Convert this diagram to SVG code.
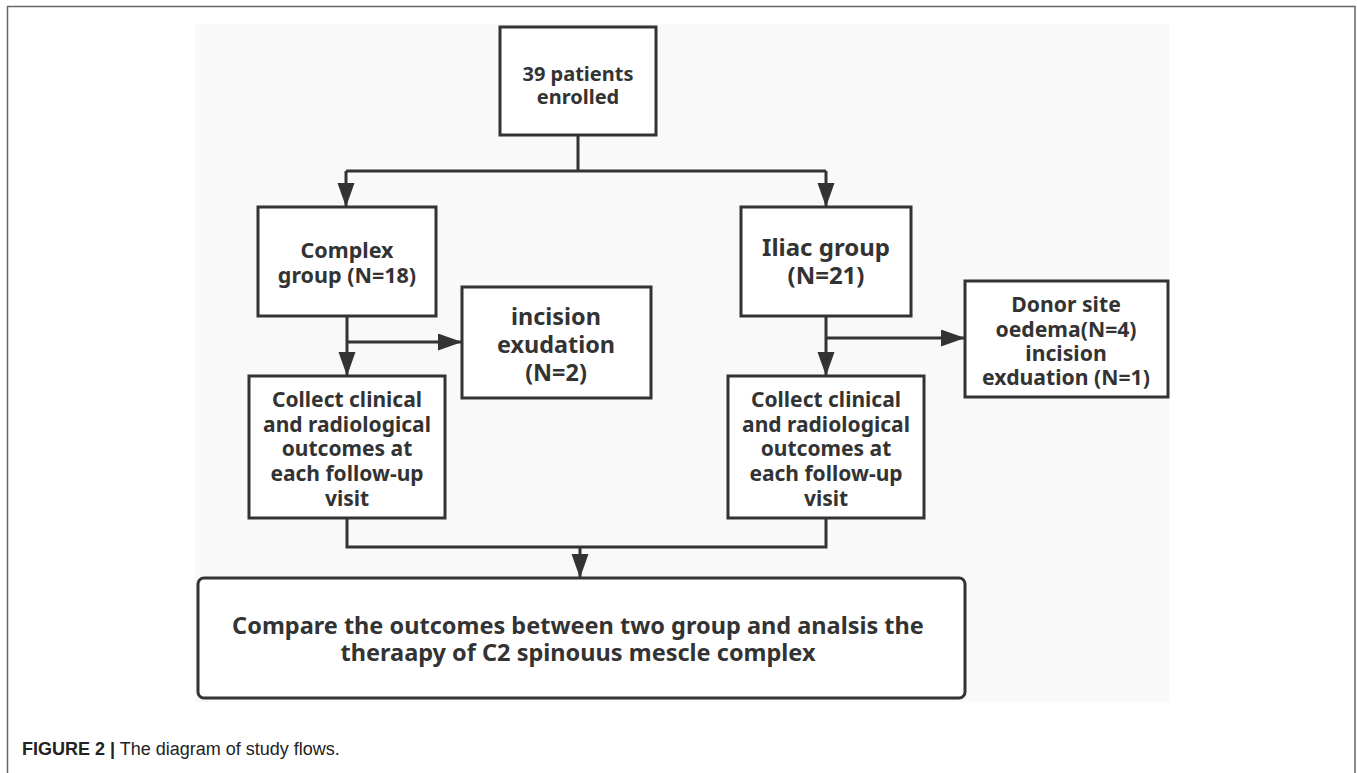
<svg xmlns="http://www.w3.org/2000/svg" width="1357" height="773" viewBox="0 0 1357 773">
<defs>
<marker id="ah" markerUnits="userSpaceOnUse" markerWidth="24" markerHeight="18" refX="24" refY="8.5" orient="auto">
<path d="M0,0 L24,8.5 L0,17 z" fill="#333"/>
</marker>
<style>
.box{fill:#fff;stroke:#333;stroke-width:3}
.t{font-family:"Noto Sans","Open Sans",sans-serif;font-weight:bold;fill:#333;text-anchor:middle}
.ln{fill:none;stroke:#333;stroke-width:3}
.cap{font-family:"Liberation Sans",Arial,sans-serif;font-size:18px;fill:#222}
</style>
</defs>
<rect x="7.5" y="6.5" width="1347.5" height="775" fill="#fff" stroke="#666" stroke-width="1.5"/>
<rect x="195" y="24" width="974" height="678" fill="#f9f9f9"/>
<g id="connectors">
<path class="ln" d="M578,135 V171 M346,171 H826"/>
<path class="ln" d="M346,171 V207" marker-end="url(#ah)"/>
<path class="ln" d="M826,171 V207" marker-end="url(#ah)"/>
<path class="ln" d="M347,316 V376" marker-end="url(#ah)"/>
<path class="ln" d="M347,342 H462" marker-end="url(#ah)"/>
<path class="ln" d="M826,316 V376" marker-end="url(#ah)"/>
<path class="ln" d="M826,338 H965" marker-end="url(#ah)"/>
<path class="ln" d="M347,518 V547 H826 V518"/>
<path class="ln" d="M580,547 V578" marker-end="url(#ah)"/>
</g>
<g id="n-enrolled">
<rect class="box" x="500" y="27" width="156" height="108"/>
<text class="t" font-size="20" x="578" y="81">39 patients</text>
<text class="t" font-size="20" x="578" y="104">enrolled</text>
</g>
<g id="n-complex">
<rect class="box" x="258" y="207" width="178" height="109"/>
<text class="t" font-size="21.5" x="347" y="258">Complex</text>
<text class="t" font-size="21.5" x="347" y="283">group (N=18)</text>
</g>
<g id="n-iliac">
<rect class="box" x="741" y="207" width="170" height="109"/>
<text class="t" font-size="24" x="826" y="256">Iliac group</text>
<text class="t" font-size="24" x="826" y="284">(N=21)</text>
</g>
<g id="n-incision">
<rect class="box" x="462" y="287" width="189" height="111"/>
<text class="t" font-size="23.4" x="556" y="325">incision</text>
<text class="t" font-size="23.4" x="556" y="353">exudation</text>
<text class="t" font-size="23.4" x="556" y="381">(N=2)</text>
</g>
<g id="n-donor">
<rect class="box" x="965" y="281" width="203" height="116"/>
<text class="t" font-size="21.2" x="1066" y="312">Donor site</text>
<text class="t" font-size="21.2" x="1066" y="337">oedema(N=4)</text>
<text class="t" font-size="21.2" x="1066" y="361">incision</text>
<text class="t" font-size="21.2" x="1066" y="385">exduation (N=1)</text>
</g>
<g id="n-collect-left">
<rect class="box" x="249" y="376" width="196" height="142"/>
<text class="t" font-size="21" x="347" y="407">Collect clinical</text>
<text class="t" font-size="21" x="347" y="432">and radiological</text>
<text class="t" font-size="21" x="347" y="456">outcomes at</text>
<text class="t" font-size="21" x="347" y="481">each follow-up</text>
<text class="t" font-size="21" x="347" y="506">visit</text>
</g>
<g id="n-collect-right">
<rect class="box" x="728" y="376" width="196" height="142"/>
<text class="t" font-size="21" x="826" y="407">Collect clinical</text>
<text class="t" font-size="21" x="826" y="432">and radiological</text>
<text class="t" font-size="21" x="826" y="456">outcomes at</text>
<text class="t" font-size="21" x="826" y="481">each follow-up</text>
<text class="t" font-size="21" x="826" y="506">visit</text>
</g>
<g id="n-compare">
<rect class="box" x="198" y="578" width="767" height="120" rx="6"/>
<text class="t" font-size="23.5" x="578" y="634">Compare the outcomes between two group and analsis the</text>
<text class="t" font-size="23.5" x="578" y="661">theraapy of C2 spinouus mescle complex</text>
</g>
<text class="cap" x="22" y="755"><tspan font-weight="bold">FIGURE 2 |</tspan> The diagram of study flows.</text>
</svg>
